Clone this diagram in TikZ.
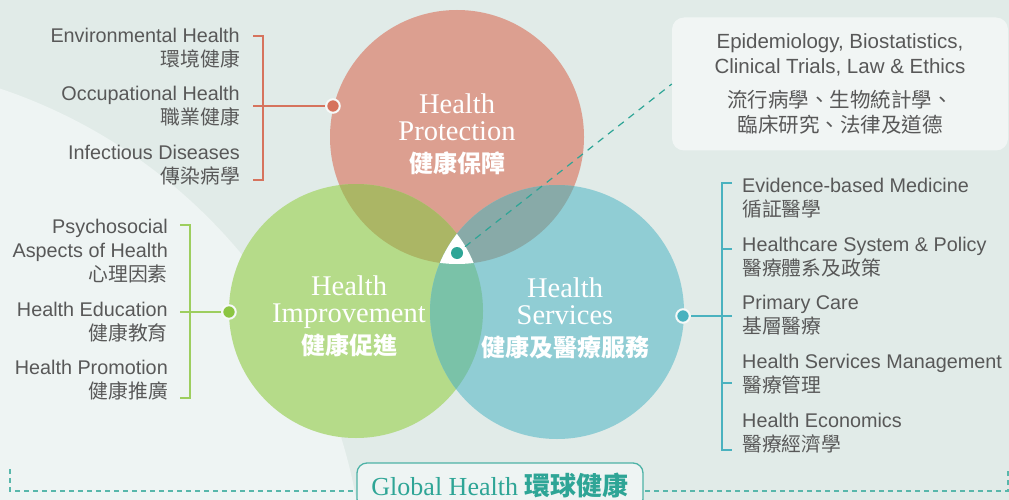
\documentclass[tikz,border=0pt]{standalone}
\usepackage{fontspec}
\setmainfont{Liberation Serif}
\setsansfont{Liberation Sans}
\newfontfamily\cjk{Noto Sans CJK TC}
\usetikzlibrary{positioning}
\definecolor{bgbase}{HTML}{E1EBE8}
\definecolor{bglight}{HTML}{EEF4F3}
\definecolor{protcol}{HTML}{DC9F90}
\definecolor{imprcol}{HTML}{B5DB89}
\definecolor{servcol}{HTML}{90CDD4}
\definecolor{pimix}{HTML}{ABB665}
\definecolor{psmix}{HTML}{88AAA8}
\definecolor{ismix}{HTML}{7AC2A8}
\definecolor{protdark}{HTML}{D6735D}
\definecolor{imprdark}{HTML}{8CC542}
\definecolor{servdark}{HTML}{4AB2BF}
\definecolor{tealc}{HTML}{2EA596}
\definecolor{labgray}{HTML}{585858}
\tikzset{
  item/.style={inner sep=0pt,text=labgray,font=\sffamily\fontsize{19.8}{24}\selectfont},
  circlabel/.style={inner sep=0pt,text=white,align=center,font=\fontsize{28.5}{27}\selectfont},
  hub/.style={circle,inner sep=0pt,minimum size=13.5pt,fill=#1,draw=white!70!bgbase,line width=2pt},
  bracket/.style={draw=#1,line width=1.4pt},
  infobox/.style={rounded corners=12pt,fill=white,fill opacity=0.55,text opacity=1,minimum width=336pt,
    minimum height=133pt,align=center,text=labgray,font=\sffamily\fontsize{20.5}{25}\selectfont},
  globalbox/.style={draw=tealc!85,line width=1.3pt,rounded corners=10pt,fill=bglight,minimum width=286pt,
    minimum height=46pt,text=tealc,font=\fontsize{26}{26}\selectfont}
}
\newcommand{\zhbold}{\cjk\bfseries\fontsize{24}{24}\selectfont}
\begin{document}
\begin{tikzpicture}[x=1pt,y=-1pt]
\useasboundingbox (0,0) rectangle (1009,500);
\fill[bgbase] (0,0) rectangle (1009,500);
\fill[bglight] (-170,596) circle (535);

\coordinate (P) at (457,137);
\coordinate (I) at (356,311);
\coordinate (S) at (557,312);
\fill[protcol] (P) circle (127);
\fill[imprcol] (I) circle (127);
\fill[servcol] (S) circle (127);
\begin{scope}
\clip (P) circle (127);
\fill[pimix] (I) circle (127);
\fill[psmix] (S) circle (127);
\end{scope}
\begin{scope}
\clip (I) circle (127);
\fill[ismix] (S) circle (127);
\clip (S) circle (127);
\fill[white] (P) circle (127);
\end{scope}

\node[circlabel] (protLab) at (457,134) {Health\\Protection\\[5pt]{\zhbold 健康保障}};
\node[circlabel] (imprLab) at (349,316) {Health\\Improvement\\[5pt]{\zhbold 健康促進}};
\node[circlabel] (servLab) at (565,318) {Health\\Services\\[5pt]{\zhbold 健康及醫療服務}};

\coordinate (protJoin) at (253,106);
\coordinate (imprJoin) at (180,312);
\coordinate (servJoin) at (732,316);
\draw[bracket=protdark] (253,36) -- (263,36) -- (263,180) -- (253,180);
\draw[bracket=imprdark!85!white] (180,225) -- (190,225) -- (190,398) -- (180,398);
\draw[bracket=servdark] (732,183) -- (722,183) -- (722,450) -- (732,450);
\draw[bracket=servdark] (722,249) -- (732,249) (722,383) -- (732,383);
\node[hub=protdark] (protHub) at (333,106) {};
\node[hub=imprdark] (imprHub) at (229,312) {};
\node[hub=servdark] (servHub) at (683,316) {};
\draw[bracket=protdark] (protJoin) -- (protHub);
\draw[bracket=imprdark!85!white] (imprJoin) -- (imprHub);
\draw[bracket=servdark] (servJoin) -- (servHub);

\foreach \en/\zh/\y [count=\i] in {Environmental Health/環境健康/48,Occupational Health/職業健康/106,Infectious Diseases/傳染病學/165}
  \node[item,anchor=east,align=right] (protItem\i) at (240,\y) {\en\\{\cjk\zh}};
\foreach \en/\zh/\y [count=\i] in {Psychosocial\\Aspects of Health/心理因素/251,Health Education/健康教育/322,Health Promotion/健康推廣/380}
  \node[item,anchor=east,align=right] (imprItem\i) at (168,\y) {\en\\{\cjk\zh}};
\foreach \en/\zh/\y [count=\i] in {Evidence-based Medicine/循証醫學/198,Healthcare System \& Policy/醫療體系及政策/257,
    Primary Care/基層醫療/315,Health Services Management/醫療管理/374,Health Economics/醫療經濟學/433}
  \node[item,anchor=west,align=left] (servItem\i) at (742,\y) {\en\\{\cjk\zh}};

\node[infobox] (method) at (840,84) {Epidemiology, Biostatistics,\\Clinical Trials, Law \& Ethics\\[9pt]
  {\cjk 流行病學、生物統計學、}\\{\cjk 臨床研究、法律及道德}};
\node[circle,inner sep=0pt,minimum size=12pt,fill=tealc] (core) at (457,253) {};
\draw[tealc,line width=1.2pt,dash pattern=on 7pt off 6pt,shorten <=4pt] (core) -- (method.west);

\coordinate (frameL) at (10,469);
\coordinate (frameR) at (1008,469);
\draw[tealc!80,line width=1.1pt,dash pattern=on 5pt off 4pt] (frameL) -- ++(0,22) -| (frameR);
\node[globalbox] (global) at (500,486) {Global Health {\cjk\bfseries 環球健康}};
\end{tikzpicture}
\end{document}
